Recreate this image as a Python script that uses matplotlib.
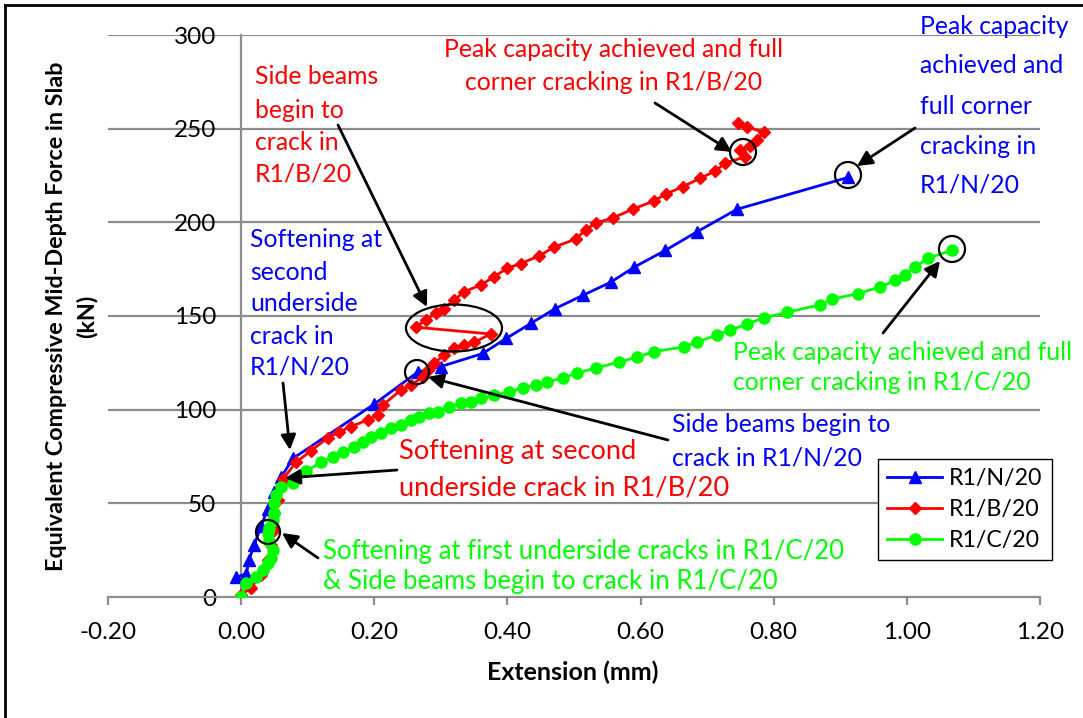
import matplotlib
matplotlib.use("Agg")
import matplotlib.pyplot as plt
from matplotlib.patches import Ellipse
from matplotlib.lines import Line2D

plt.rcParams['font.family'] = ['Lato', 'DejaVu Sans']

# ---------------- data ----------------
n_x = [-0.007, 0.008, 0.012, 0.02, 0.03, 0.04, 0.05, 0.06, 0.078, 0.2, 0.265, 0.30, 0.363,
       0.398, 0.435, 0.472, 0.513, 0.555, 0.59, 0.637, 0.685, 0.745, 0.912]
n_y = [10.5, 12.5, 20, 28, 38, 47, 56, 64, 74, 103, 120, 123, 130,
       138, 146, 154, 161, 168, 176, 185, 195, 207, 224]

b_x = [0.0, 0.015, 0.03, 0.04, 0.045, 0.05, 0.05, 0.055, 0.063, 0.0825, 0.105, 0.13, 0.147,
       0.165, 0.19, 0.205, 0.213, 0.24, 0.255, 0.273, 0.28, 0.29, 0.305, 0.32, 0.335, 0.35,
       0.375, 0.2625, 0.2775, 0.2925, 0.305, 0.32, 0.335, 0.36, 0.38, 0.40, 0.42, 0.447,
       0.47, 0.5025, 0.5175, 0.5325, 0.558, 0.588, 0.62, 0.6375, 0.663, 0.69, 0.7125,
       0.7275, 0.7575, 0.75, 0.765, 0.775, 0.785, 0.76, 0.747]
b_y = [1, 5, 12, 20, 28, 36, 45, 52, 63, 72, 78, 85, 88,
       91, 94.5, 97, 102.5, 110.5, 113, 117.5, 121, 125, 129, 133, 134.5, 136,
       140.4, 144, 148, 151.6, 154, 158.5, 163, 166.5, 171, 175.5, 178, 182,
       186.8, 191, 196, 199.6, 202.3, 207, 211.4, 215, 219, 223.6, 227.4,
       231.7, 235, 238.5, 241, 244, 248, 251, 253]

c_x = [0.0, 0.0075, 0.0225, 0.033, 0.04, 0.045, 0.048, 0.042, 0.04, 0.042, 0.048, 0.05, 0.05,
       0.0525, 0.06, 0.078, 0.0975, 0.12, 0.138, 0.153, 0.17, 0.183, 0.195, 0.21, 0.225,
       0.24, 0.255, 0.267, 0.282, 0.295, 0.312, 0.33, 0.345, 0.36, 0.38, 0.402, 0.423,
       0.443, 0.46, 0.483, 0.505, 0.5325, 0.567, 0.595, 0.62, 0.665, 0.685, 0.715, 0.735,
       0.76, 0.785, 0.82, 0.87, 0.888, 0.927, 0.96, 0.9825, 0.9975, 1.0125, 1.032, 1.068]
c_y = [0, 7.5, 10.7, 14.4, 18, 21, 25, 30, 34, 37, 41, 45, 50,
       54.4, 58.7, 61, 67, 72, 74.7, 77.4, 80, 82.7, 85.4, 87.5, 90.2,
       91.8, 94.5, 96, 98, 98.8, 101.4, 103.6, 104, 106, 107.8, 109.4, 111.6,
       113, 114.8, 116.9, 119.6, 122.2, 125.4, 128, 131, 133.5, 136, 140, 142.5,
       145.7, 149, 152, 156, 159, 162, 165.5, 169, 172, 176, 181, 185]

series_labels = ['R1/N/20', 'R1/B/20', 'R1/C/20']
x_ticks = [-0.2, 0.0, 0.2, 0.4, 0.6, 0.8, 1.0, 1.2]
y_ticks = [0, 50, 100, 150, 200, 250, 300]

BLUE, RED, GREEN = '#0000FF', '#FF0000', '#00FF00'
ANN = 17.8

# ---------------- figure ----------------
W, H = 1083, 718
fig = plt.figure(figsize=(W / 100, H / 100), dpi=100)
L, R, T, B = 108, 1040, 35, 597
ax = fig.add_axes([L / W, 1 - B / H, (R - L) / W, (B - T) / H])
ax.set_xlim(-0.2, 1.2)
ax.set_ylim(0, 300)


def px(xp, yp):
    return (-0.2 + (xp - L) / (R - L) * 1.4, (B - yp) / (B - T) * 300)


def pw(wp, hp):
    return (wp / (R - L) * 1.4, hp / (B - T) * 300)


# grid & axes
for yv in y_ticks[1:]:
    ax.axhline(yv, color='#8C8C8C', lw=1.6, zorder=0)
for s in ['top', 'right']:
    ax.spines[s].set_visible(False)
ax.spines['left'].set_position(('data', 0))
ax.spines['left'].set_color('#8C8C8C')
ax.spines['left'].set_linewidth(1.6)
ax.spines['bottom'].set_color('#8C8C8C')
ax.spines['bottom'].set_linewidth(1.6)
ax.set_xticks(x_ticks)
ax.set_xticklabels(['%.2f' % v for v in x_ticks])
ax.set_yticks(y_ticks)
ax.set_yticklabels([str(v) for v in y_ticks])
ax.tick_params(axis='x', direction='out', length=6, width=1.6, color='#8C8C8C',
               pad=12, labelsize=17.5, labelcolor='black')
ax.tick_params(axis='y', length=0, pad=18, labelsize=17.5, labelcolor='black')

# series
ax.plot(n_x, n_y, color=BLUE, lw=2, marker='^', ms=8, label=series_labels[0], zorder=3)
ax.plot(b_x, b_y, color=RED, lw=2, marker='D', ms=6, label=series_labels[1], zorder=4)
ax.plot(c_x, c_y, color=GREEN, lw=2, marker='o', ms=8, label=series_labels[2], zorder=5)

# legend
leg = ax.legend(loc='upper left', bbox_to_anchor=(878 / W, 1 - 459 / H),
                bbox_transform=fig.transFigure, borderaxespad=0, fancybox=False,
                edgecolor='black', framealpha=1, fontsize=16.7, handlelength=2.35,
                borderpad=0.4, labelspacing=0.42, handletextpad=0.3)
leg.get_frame().set_linewidth(1.0)
leg.set_zorder(10)

# axis titles
fig.text(573 / W, 1 - 672 / H, 'Extension (mm)', ha='center', va='center',
         fontsize=18, fontweight='bold')
fig.text(57 / W, 1 - 316 / H, 'Equivalent Compressive Mid-Depth Force in Slab',
         ha='center', va='center', rotation=90, fontsize=16.8, fontweight='bold')
fig.text(87 / W, 1 - 316 / H, '(kN)', ha='center', va='center', rotation=90,
         fontsize=16.8, fontweight='bold')


def block(lines, xp, ys, color, size=ANN, ha='left'):
    for t, yp in zip(lines, ys):
        x, y = px(xp, yp)
        ax.text(x, y, t, color=color, fontsize=size, ha=ha, va='center',
                zorder=8, clip_on=False)


block(['Peak capacity achieved and full', 'corner cracking in R1/B/20'], 614, [50, 83], RED, ha='center')
block(['Side beams', 'begin to', 'crack in', 'R1/B/20'], 255, [77, 110, 142, 174], RED)
block(['Peak capacity', 'achieved and', 'full corner', 'cracking in', 'R1/N/20'], 920,
      [27, 66, 106, 146, 185], BLUE)
block(['Softening at', 'second', 'underside', 'crack in', 'R1/N/20'], 250,
      [240, 272, 304, 336, 367], BLUE)
block(['Side beams begin to', 'crack in R1/N/20'], 672, [425, 458], BLUE)
block(['Softening at second', 'underside crack in R1/B/20'], 399, [452, 488], RED, size=19.6)
block(['Peak capacity achieved and full', 'corner cracking in R1/C/20'], 733, [352, 383], GREEN)
block(['Softening at first underside cracks in R1/C/20',
       '& Side beams begin to crack in R1/C/20'], 323, [551, 582], GREEN, size=18.5)


def arrow(x0, y0, x1, y1):
    ax.annotate('', xy=px(x1, y1), xytext=px(x0, y0),
                arrowprops=dict(arrowstyle='-|>,head_length=0.9,head_width=0.45',
                                color='black', lw=2, shrinkA=0, shrinkB=0),
                zorder=9, annotation_clip=False)


arrow(655, 103, 732, 152)
arrow(915, 128, 857, 166)
arrow(338, 125, 427, 307)
arrow(283, 383, 290, 450)
arrow(668, 440, 428, 377)
arrow(397, 470, 285, 478)
arrow(318, 558, 282, 533)
arrow(883, 333, 940, 261)


def ell(xc, yc, wp, hp):
    w, h = pw(wp, hp)
    ax.add_patch(Ellipse(px(xc, yc), w, h, fill=False, edgecolor='black', lw=1.6, zorder=9,
                         clip_on=False))


ell(743, 152, 26, 26)
ell(848, 175, 26, 26)
ell(952, 249, 26, 26)
ell(454, 328, 96, 47)
ell(417, 372, 24, 24)
ell(268, 532, 24, 24)

# outer border (left & top visible)
fig.add_artist(Line2D([5 / W, 5 / W], [0, 1 - 5 / H], color='black', lw=2))
fig.add_artist(Line2D([5 / W, 1], [1 - 5 / H, 1 - 5 / H], color='black', lw=2))

fig.savefig('out.png', dpi=100)
